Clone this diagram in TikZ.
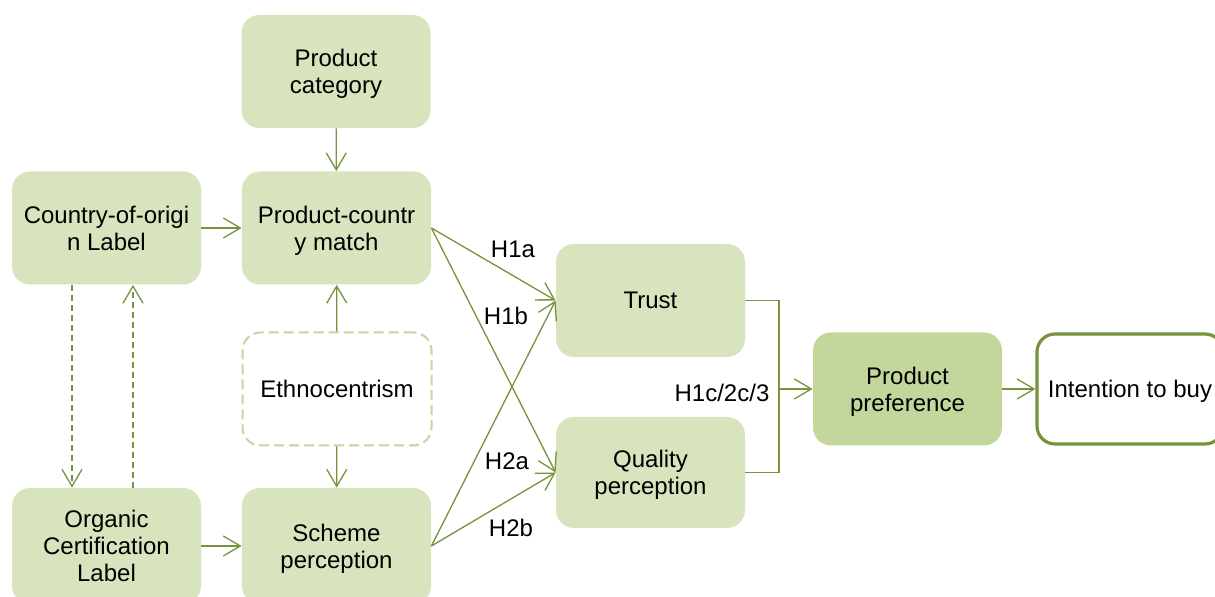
\documentclass[tikz,border=0pt]{standalone}
\usepackage{fontspec}
\setmainfont{Liberation Sans}
\usetikzlibrary{arrows.meta}
\definecolor{boxfill}{HTML}{D7E4BD}
\definecolor{ppfill}{HTML}{C3D69B}
\definecolor{olive}{HTML}{77933C}
\definecolor{dashgreen}{HTML}{C3D69B}
\begin{document}
\begin{tikzpicture}[x=0.5pt,y=-0.5pt,
  every node/.style={font=\fontsize{12}{13.5}\selectfont},
  gbox/.style={rectangle, rounded corners=9pt, fill=boxfill, draw=none,
    minimum width=94.5pt, minimum height=56.5pt, align=center, inner sep=1pt,
    text depth=0pt},
  link/.style={draw=olive, line width=0.65pt, -{Straight Barb[length=8.5pt,width=10pt]}},
  plain/.style={draw=olive, line width=0.65pt},
  hlab/.style={inner sep=0pt}]
\clip (0,0) rectangle (1215,597);
\fill[white] (0,0) rectangle (1215,597);
% nodes
\node[gbox] (pc) at (336,71.5) {Product\\category};
\node[gbox] (coo) at (106.5,228) {Country-of-origi\\n Label};
\node[gbox] (pcm) at (336.5,228) {Product-countr\\y match};
\node[gbox, fill=white, draw=dashgreen, line width=1pt, dash pattern=on 5pt off 2.5pt] (eth) at (337,389) {Ethnocentrism};
\node[gbox, minimum height=58pt] (ocl) at (106.5,546) {Organic\\Certification\\Label};
\node[gbox, minimum height=58pt] (sp) at (336.5,546) {Scheme\\perception};
\node[gbox] (tr) at (650.5,300.5) {Trust};
\node[gbox, minimum height=55.5pt] (qp) at (650.5,472.5) {Quality\\perception};
\node[gbox, fill=ppfill] (pp) at (907.5,389) {Product\\preference};
\node[gbox, fill=white, draw=olive, line width=1.6pt, minimum width=93pt, minimum height=55pt] (itb) at (1130,389) {Intention to buy};
% helper coordinates
\coordinate (xa) at (72,0);
\coordinate (xb) at (133,0);
\coordinate (mid) at (779,389);
% connectors
\draw[link] (pc) -- (pcm);
\draw[link] (coo.east) -- (pcm.west);
\draw[link] (eth) -- (pcm);
\draw[link] (eth) -- (sp);
\draw[link] (ocl.east) -- (sp.west);
\draw[link, dash pattern=on 3pt off 2pt] (coo.south -| xa) -- (ocl.north -| xa);
\draw[link, dash pattern=on 3pt off 2pt] (ocl.north -| xb) -- (coo.south -| xb);
\draw[link] (pcm.east) -- (tr.west);
\draw[link] (pcm.east) -- (qp.west);
\draw[link] (sp.east) -- (tr.west);
\draw[link] (sp.east) -- (qp.west);
\draw[plain] (tr.east) -| (mid) |- (qp.east);
\draw[link] (mid) -- (pp.west);
\draw[link] (pp.east) -- (itb.west);
% labels
\node[hlab] (l1a) at (513,249) {H1a};
\node[hlab] (l1b) at (506,316) {H1b};
\node[hlab] (l2a) at (507,461) {H2a};
\node[hlab] (l2b) at (511,528) {H2b};
\node[hlab] (l3) at (722,393) {H1c/2c/3};
\end{tikzpicture}
\end{document}
